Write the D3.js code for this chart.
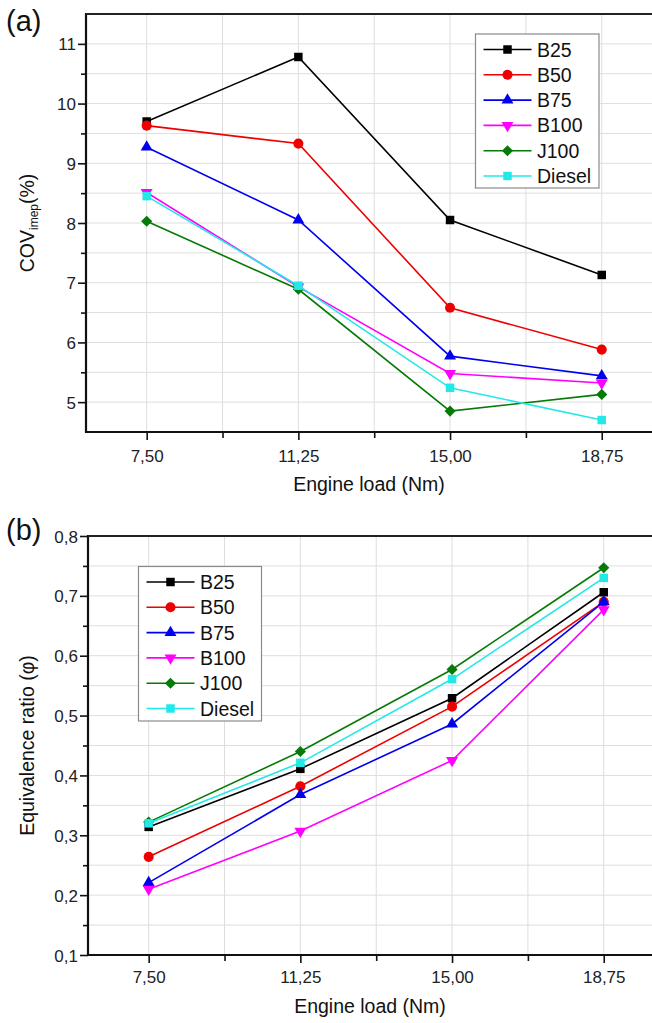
<!DOCTYPE html>
<html>
<head>
<meta charset="utf-8">
<script src="https://cdn.jsdelivr.net/npm/d3@7"></script>
<style>
  html, body { margin: 0; padding: 0; background: #fff; }
  svg { display: block; font-family: "Liberation Sans", Arial, Helvetica, sans-serif; }
</style>
</head>
<body>
<svg id="chart" width="652" height="1023"></svg>
<script>
// Engine load (Nm) on the x axis of both panels
const loads = [7.5, 11.25, 15, 18.75];
const loadLabels = ["7,50", "11,25", "15,00", "18,75"];
const fuels = ["B25", "B50", "B75", "B100", "J100", "Diesel"];

// (a) cycle-to-cycle variation of IMEP, %
const covB25 = [9.70, 10.78, 8.05, 7.13];
const covB50 = [9.63, 9.33, 6.58, 5.88];
const covB75 = [9.27, 8.05, 5.77, 5.44];
const covB100 = [8.51, 6.93, 5.48, 5.32];
const covJ100 = [8.03, 6.89, 4.85, 5.13];
const covDiesel = [8.45, 6.95, 5.24, 4.70];
const covTicks = [5, 6, 7, 8, 9, 10, 11];

// (b) equivalence ratio
const phiB25 = [0.314, 0.411, 0.529, 0.706];
const phiB50 = [0.264, 0.382, 0.515, 0.690];
const phiB75 = [0.221, 0.368, 0.486, 0.690];
const phiB100 = [0.210, 0.307, 0.425, 0.677];
const phiJ100 = [0.322, 0.440, 0.577, 0.747];
const phiDiesel = [0.320, 0.421, 0.561, 0.730];
const phiTicks = [0.1, 0.2, 0.3, 0.4, 0.5, 0.6, 0.7, 0.8];

const colors = ["#000000", "#ee0000", "#0000ee", "#ff00ff", "#067a06", "#22e8e8"];
const shapes = ["square", "circle", "triangle", "triangleDown", "diamond", "square"];

const svg = d3.select("#chart");
const FONT = "\"Liberation Sans\", Arial, Helvetica, sans-serif";

function markerPath(shape) {
  switch (shape) {
    case "square": return d3.symbol(d3.symbolSquare, 72)();
    case "circle": return d3.symbol(d3.symbolCircle, 80)();
    case "triangle": return d3.symbol(d3.symbolTriangle, 62)();
    case "triangleDown": return d3.symbol(d3.symbolTriangle, 62)();
    case "diamond": return d3.symbol(d3.symbolSquare, 62)();
  }
}
function markerRotate(shape) {
  if (shape === "triangleDown") return 180;
  if (shape === "diamond") return 45;
  return 0;
}

function drawPanel(opt) {
  const x = d3.scaleLinear().domain([6, 20]).range([opt.left, opt.left + 14 * 40.45]);
  const y = d3.scaleLinear().domain(opt.yDomain).range([opt.bottom, opt.top]);
  const g = svg.append("g");

  // grid
  const xGrid = d3.range(7.5, 20, 1.875);
  const yGrid = d3.range(opt.yDomain[0] + opt.yMinor, opt.yDomain[1] + 1e-9, opt.yMinor);
  g.append("g").selectAll("line").data(xGrid).join("line")
    .attr("x1", d => x(d)).attr("x2", d => x(d))
    .attr("y1", opt.top).attr("y2", opt.bottom)
    .attr("stroke", "#dedede").attr("stroke-width", 1);
  g.append("g").selectAll("line").data(yGrid).join("line")
    .attr("x1", opt.left).attr("x2", 652)
    .attr("y1", d => y(d)).attr("y2", d => y(d))
    .attr("stroke", "#dedede").attr("stroke-width", 1);

  // y axis: major + minor ticks
  const yAxis = d3.axisLeft(y).tickValues(opt.yTicks).tickSize(8).tickFormat(opt.yFormat);
  const ya = g.append("g").attr("transform", `translate(${opt.left},0)`).call(yAxis);
  const yMinorAxis = d3.axisLeft(y)
    .tickValues(opt.yTicks.slice(0, -1).map(v => v + opt.yMinor).filter(v => v < opt.yDomain[1]))
    .tickSize(5).tickFormat("");
  const ym = g.append("g").attr("transform", `translate(${opt.left},0)`).call(yMinorAxis);
  [ya, ym].forEach(a => {
    a.select(".domain").remove();
    a.selectAll(".tick line").attr("stroke", "#111").attr("stroke-width", 1.6);
  });
  ya.selectAll(".tick text").attr("x", -10).attr("dy", "0.36em")
    .attr("font-size", 17).attr("font-family", FONT).attr("fill", "#222");

  // x axis: major + minor ticks
  const xAxis = d3.axisBottom(x).tickValues(loads).tickSize(8).tickFormat((d, i) => loadLabels[i]);
  const xa = g.append("g").attr("transform", `translate(0,${opt.bottom})`).call(xAxis);
  const xMinorAxis = d3.axisBottom(x).tickValues(loads.map(v => v + 1.875)).tickSize(6).tickFormat("");
  const xm = g.append("g").attr("transform", `translate(0,${opt.bottom})`).call(xMinorAxis);
  [xa, xm].forEach(a => {
    a.select(".domain").remove();
    a.selectAll(".tick line").attr("stroke", "#111").attr("stroke-width", 1.6);
  });
  xa.selectAll(".tick text").attr("y", opt.xLabelOffset).attr("dy", 0)
    .attr("font-size", 17).attr("font-family", FONT).attr("fill", "#222");

  // frame lines: left, bottom, top
  g.append("line").attr("x1", opt.left).attr("x2", opt.left).attr("y1", opt.top - 1).attr("y2", opt.bottom + 1)
    .attr("stroke", "#111").attr("stroke-width", 2.2);
  g.append("line").attr("x1", opt.left).attr("x2", 652).attr("y1", opt.bottom).attr("y2", opt.bottom)
    .attr("stroke", "#111").attr("stroke-width", 2.2);
  g.append("line").attr("x1", opt.left).attr("x2", 652).attr("y1", opt.top).attr("y2", opt.top)
    .attr("stroke", "#222").attr("stroke-width", 2);

  // series
  const line = d3.line().x((d, i) => x(loads[i])).y(d => y(d));
  opt.series.forEach((vals, si) => {
    const s = g.append("g");
    s.append("path").attr("d", line(vals)).attr("fill", "none")
      .attr("stroke", colors[si]).attr("stroke-width", 1.6);
    s.selectAll("path.m").data(vals).join("path").attr("class", "m")
      .attr("d", markerPath(shapes[si]))
      .attr("transform", (d, i) => `translate(${x(loads[i])},${y(d)}) rotate(${markerRotate(shapes[si])})`)
      .attr("fill", colors[si]);
  });

  // legend
  const L = opt.legend;
  const lg = g.append("g");
  lg.append("rect").attr("x", L.x).attr("y", L.y).attr("width", L.w).attr("height", L.h)
    .attr("fill", "#fff").attr("stroke", "#8a8a8a").attr("stroke-width", 1.2);
  fuels.forEach((f, i) => {
    const yy = L.y + 15.5 + i * 25.3;
    lg.append("line").attr("x1", L.x + 8).attr("x2", L.x + 56).attr("y1", yy).attr("y2", yy)
      .attr("stroke", colors[i]).attr("stroke-width", 1.6);
    lg.append("path").attr("d", markerPath(shapes[i]))
      .attr("transform", `translate(${L.x + 32},${yy}) rotate(${markerRotate(shapes[i])})`)
      .attr("fill", colors[i]);
    lg.append("text").attr("x", L.x + 61.5).attr("y", yy).attr("dy", "0.36em")
      .attr("font-size", 19.5).attr("font-family", FONT).attr("fill", "#111").text(f);
  });

  // x axis title
  g.append("text").attr("x", (opt.left + 652) / 2).attr("y", opt.xTitleY)
    .attr("text-anchor", "middle").attr("font-size", 19.5).attr("font-family", FONT)
    .attr("fill", "#111").text("Engine load (Nm)");

  // y axis title
  const yt = g.append("text")
    .attr("transform", `translate(33.5,${(opt.top + opt.bottom) / 2}) rotate(-90)`)
    .attr("text-anchor", "middle").attr("font-size", 19.5).attr("font-family", FONT).attr("fill", "#111");
  opt.yTitle(yt);

  // panel tag
  g.append("text").attr("x", 6).attr("y", opt.tagY).attr("font-size", 29).attr("font-family", FONT)
    .attr("fill", "#111").text(opt.tag);
}

const fmtComma = d => d3.format(".1f")(d).replace(".", ",");

drawPanel({
  left: 86, top: 14, bottom: 432,
  yDomain: [4.5, 11.5], yMinor: 0.5, yTicks: covTicks, yFormat: d3.format("d"),
  xLabelOffset: 29.5, xTitleY: 491,
  series: [covB25, covB50, covB75, covB100, covJ100, covDiesel],
  legend: { x: 475.5, y: 34, w: 123.5, h: 154 },
  yTitle: t => {
    t.append("tspan").text("COV");
    t.append("tspan").attr("font-size", 12).attr("dy", 4).text("imep");
    t.append("tspan").attr("dy", -4).text("(%)");
  },
  tag: "(a)", tagY: 31
});

drawPanel({
  left: 88, top: 536, bottom: 955,
  yDomain: [0.1, 0.8], yMinor: 0.05, yTicks: phiTicks, yFormat: fmtComma,
  xLabelOffset: 27.5, xTitleY: 1013,
  series: [phiB25, phiB50, phiB75, phiB100, phiJ100, phiDiesel],
  legend: { x: 138.5, y: 566.5, w: 123, h: 154.5 },
  yTitle: t => t.text("Equivalence ratio (φ)"),
  tag: "(b)", tagY: 540
});
</script>
</body>
</html>
